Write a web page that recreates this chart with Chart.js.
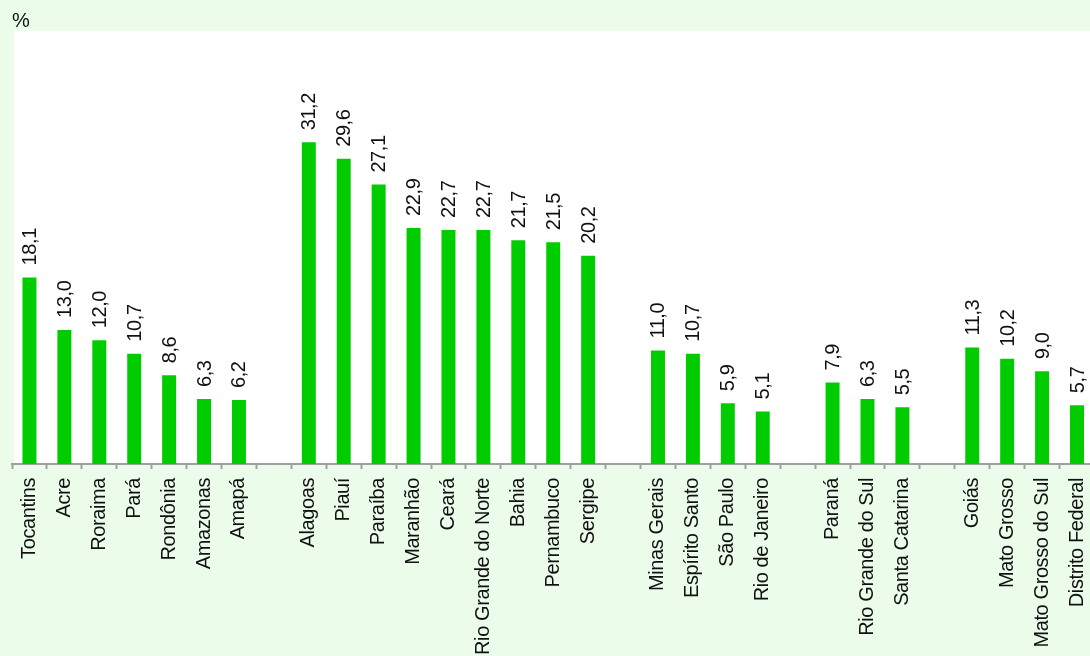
<!DOCTYPE html>
<html>
<head>
<meta charset="utf-8">
<script src="https://cdn.jsdelivr.net/npm/chart.js@4/dist/chart.umd.min.js"></script>
<style>
  html, body { margin: 0; padding: 0; background: #ebfdea; overflow: hidden; }
  #wrap { width: 1110px; height: 656px; position: relative; }
</style>
</head>
<body>
<div id="wrap"><canvas id="c"></canvas></div>
<script>
// States grouped by region; empty strings leave a gap between regions
const states = [
  'Tocantins', 'Acre', 'Roraima', 'Pará', 'Rondônia', 'Amazonas', 'Amapá', '',
  'Alagoas', 'Piauí', 'Paraíba', 'Maranhão', 'Ceará', 'Rio Grande do Norte', 'Bahia', 'Pernambuco', 'Sergipe', '',
  'Minas Gerais', 'Espírito Santo', 'São Paulo', 'Rio de Janeiro', '',
  'Paraná', 'Rio Grande do Sul', 'Santa Catarina', '',
  'Goiás', 'Mato Grosso', 'Mato Grosso do Sul', 'Distrito Federal'
];

// Percentage per state (null for the gaps)
const percent = [
  18.1, 13.0, 12.0, 10.7, 8.6, 6.3, 6.2, null,
  31.2, 29.6, 27.1, 22.9, 22.7, 22.7, 21.7, 21.5, 20.2, null,
  11.0, 10.7, 5.9, 5.1, null,
  7.9, 6.3, 5.5, null,
  11.3, 10.2, 9.0, 5.7
];

const unitLabel = '%';

const FONT = '"Liberation Sans", Arial, sans-serif';
const TIGHT = '-0.4px';

// slightly condensed lettering for all canvas text
const tightText = {
  id: 'tightText',
  beforeLayout(chart) { chart.ctx.letterSpacing = TIGHT; },
  beforeDraw(chart) { chart.ctx.letterSpacing = TIGHT; }
};

const plotBackground = {
  id: 'plotBackground',
  beforeDraw(chart) {
    const { ctx, chartArea: a } = chart;
    ctx.save();
    ctx.fillStyle = '#ffffff';
    ctx.fillRect(a.left + 2, a.top, a.right - a.left - 2, a.bottom - a.top);
    ctx.restore();
  }
};

const valueLabels = {
  id: 'valueLabels',
  afterDatasetsDraw(chart) {
    const { ctx } = chart;
    const meta = chart.getDatasetMeta(0);
    ctx.save();
    ctx.font = '20px ' + FONT;
    ctx.fillStyle = '#111111';
    ctx.textAlign = 'left';
    ctx.textBaseline = 'middle';
    meta.data.forEach((bar, i) => {
      const v = percent[i];
      if (v === null) return;
      ctx.save();
      ctx.translate(bar.x + 1, bar.y - 12);
      ctx.rotate(-Math.PI / 2);
      ctx.fillText(v.toFixed(1).replace('.', ','), 0, 0);
      ctx.restore();
    });
    ctx.font = '20px ' + FONT;
    ctx.textBaseline = 'middle';
    ctx.fillText(unitLabel, 12, 21);
    ctx.restore();
  }
};

new Chart(document.getElementById('c'), {
  type: 'bar',
  data: {
    labels: states,
    datasets: [{
      data: percent,
      backgroundColor: '#00cc00',
      borderWidth: 0,
      barPercentage: 0.4,
      categoryPercentage: 1.0
    }]
  },
  options: {
    responsive: true,
    maintainAspectRatio: false,
    animation: false,
    layout: { padding: { top: 31, left: 12, right: 0, bottom: 0 } },
    plugins: {
      legend: { display: false },
      tooltip: { enabled: false }
    },
    scales: {
      x: {
        grid: {
          offset: true,
          drawOnChartArea: false,
          drawTicks: true,
          tickLength: 5,
          tickWidth: 2,
          tickColor: '#a0a0a0'
        },
        border: { display: true, color: '#a0a0a0', width: 2 },
        ticks: {
          autoSkip: false,
          maxRotation: 90,
          minRotation: 90,
          padding: 9,
          color: '#111111',
          font: { family: FONT, size: 20 }
        },
        afterFit(scale) { scale.height = 192; }
      },
      y: {
        display: false,
        min: 0,
        max: 42
      }
    }
  },
  plugins: [tightText, plotBackground, valueLabels]
});
</script>
</body>
</html>
